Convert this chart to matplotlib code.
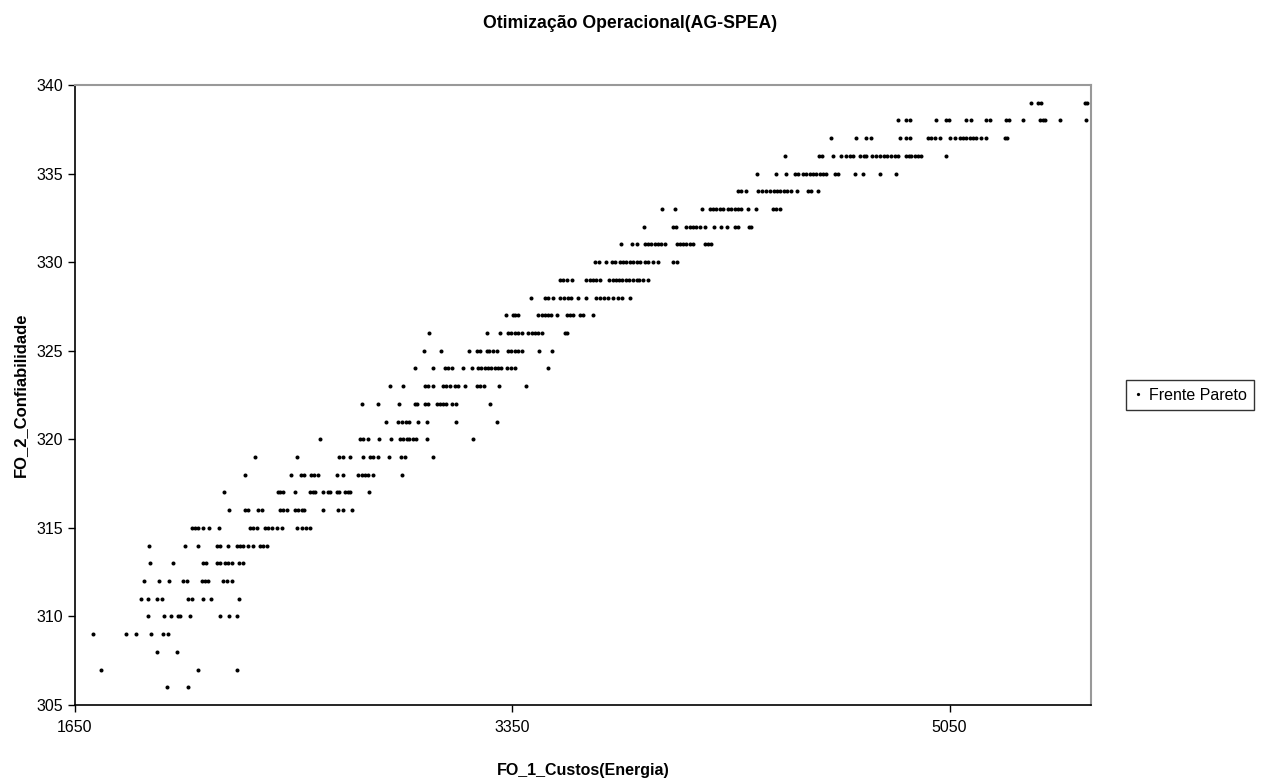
import matplotlib
matplotlib.use("Agg")
import matplotlib.pyplot as plt

plt.rcParams['font.family'] = ['Liberation Sans', 'DejaVu Sans']

# FO_1 (custos) values for each FO_2 (confiabilidade) level
c306 = [2006, 2090]
c307 = [1750, 2129, 2278]
c308 = [1967, 2045]
c309 = [1719, 1848, 1887, 1945, 1991, 2013]
c310 = [1935, 1996, 2022, 2049, 2058, 2097, 2213, 2248, 2281]
c311 = [1906, 1935, 1967, 1987, 2090, 2103, 2146, 2178, 2288]
c312 = [1919, 1976, 2015, 2069, 2084, 2142, 2155, 2168, 2224, 2240, 2259]
c313 = [1941, 2030, 2146, 2159, 2201, 2213, 2233, 2246, 2259, 2288, 2304]
c314 = [1938, 2077, 2129, 2201, 2213, 2246, 2278, 2291, 2304, 2323, 2343,
        2369, 2382, 2395]
c315 = [2103, 2116, 2129, 2149, 2172, 2211, 2330, 2343, 2356, 2388, 2401,
        2414, 2434, 2453, 2512, 2531, 2548, 2563]
c316 = [2250, 2311, 2321, 2362, 2376, 2447, 2457, 2473, 2505, 2518, 2531,
        2540, 2615, 2673, 2693, 2725]
c317 = [2230, 2438, 2447, 2460, 2505, 2563, 2574, 2583, 2613, 2632, 2641,
        2667, 2677, 2699, 2712, 2719, 2794]
c318 = [2311, 2488, 2528, 2541, 2567, 2579, 2595, 2667, 2693, 2751, 2764,
        2777, 2790, 2809, 2922]
c319 = [2349, 2512, 2677, 2690, 2719, 2768, 2796, 2809, 2829, 2871, 2916,
        2932, 3042]
c320 = [2602, 2758, 2770, 2790, 2833, 2877, 2913, 2926, 2939, 2949, 2965,
        2975, 3017, 3198]
c321 = [2859, 2906, 2920, 2936, 2949, 2984, 3017, 3133, 3291]
c322 = [2766, 2829, 2910, 2971, 2980, 3010, 3023, 3056, 3068, 3081, 3094,
        3114, 3133, 3263]
c323 = [2874, 2926, 3010, 3023, 3042, 3081, 3094, 3107, 3127, 3140, 3166,
        3211, 3224, 3239, 3299, 3403]
c324 = [2971, 3042, 3088, 3101, 3114, 3157, 3195, 3217, 3230, 3243, 3256,
        3269, 3282, 3295, 3308, 3328, 3347, 3360, 3489]
c325 = [3007, 3071, 3182, 3211, 3224, 3250, 3260, 3276, 3289, 3334, 3347,
        3360, 3373, 3386, 3454, 3506]
c326 = [3027, 3252, 3304, 3334, 3347, 3360, 3373, 3386, 3412, 3425, 3438,
        3450, 3464, 3554, 3563]
c327 = [3325, 3351, 3360, 3373, 3450, 3464, 3479, 3489, 3502, 3522, 3561,
        3574, 3586, 3612, 3625, 3662]
c328 = [3422, 3476, 3489, 3509, 3537, 3550, 3567, 3580, 3606, 3638, 3677,
        3690, 3706, 3722, 3742, 3761, 3778, 3807]
c329 = [3537, 3548, 3561, 3584, 3638, 3651, 3664, 3677, 3690, 3726, 3740,
        3752, 3765, 3778, 3791, 3804, 3820, 3833, 3843, 3858, 3878]
c330 = [3671, 3687, 3716, 3736, 3748, 3768, 3781, 3794, 3807, 3820, 3833,
        3846, 3865, 3878, 3897, 3917, 3975, 3991]
c331 = [3771, 3817, 3833, 3865, 3878, 3891, 3904, 3917, 3930, 3943, 3991,
        4001, 4014, 4027, 4040, 4053, 4098, 4111, 4124]
c332 = [3862, 3973, 3988, 4027, 4040, 4053, 4066, 4079, 4098, 4133, 4163,
        4183, 4215, 4228, 4270, 4280]
c333 = [3932, 3982, 4088, 4118, 4130, 4144, 4156, 4169, 4189, 4202, 4215,
        4228, 4241, 4266, 4299, 4364, 4377, 4390]
c334 = [4228, 4241, 4260, 4305, 4319, 4338, 4353, 4366, 4379, 4392, 4405,
        4418, 4435, 4457, 4500, 4513, 4539]
c335 = [4301, 4377, 4416, 4448, 4461, 4480, 4493, 4506, 4519, 4532, 4545,
        4558, 4571, 4603, 4616, 4681, 4713, 4778, 4843]
c336 = [4409, 4542, 4556, 4597, 4629, 4649, 4662, 4675, 4701, 4716, 4727,
        4750, 4765, 4778, 4794, 4805, 4824, 4837, 4849, 4882, 4892, 4901,
        4914, 4927, 4940, 5035]
c337 = [4591, 4688, 4727, 4746, 4856, 4879, 4895, 4966, 4979, 4992, 5011,
        5050, 5070, 5089, 5102, 5115, 5128, 5141, 5154, 5173, 5193, 5264,
        5273]
c338 = [4849, 4882, 4895, 4999, 5035, 5048, 5115, 5135, 5193, 5208, 5271,
        5283, 5335, 5400, 5413, 5423, 5478, 5582]
c339 = [5365, 5393, 5407, 5575, 5584]

levels = [306, 307, 308, 309, 310, 311, 312, 313, 314, 315, 316, 317, 318,
          319, 320, 321, 322, 323, 324, 325, 326, 327, 328, 329, 330, 331,
          332, 333, 334, 335, 336, 337, 338, 339]
level_costs = [c306, c307, c308, c309, c310, c311, c312, c313, c314, c315,
               c316, c317, c318, c319, c320, c321, c322, c323, c324, c325,
               c326, c327, c328, c329, c330, c331, c332, c333, c334, c335,
               c336, c337, c338, c339]

x_ticks = [1650, 3350, 5050]
y_ticks = [305, 310, 315, 320, 325, 330, 335, 340]

fo1 = []
fo2 = []
for lv, cs in zip(levels, level_costs):
    for c in cs:
        fo1.append(c)
        fo2.append(lv)

fig = plt.figure(figsize=(12.61, 7.78), dpi=100)
ax = fig.add_axes([75 / 1261, 73 / 778, (1091 - 75) / 1261, (705 - 85) / 778])

ax.plot(fo1, fo2, linestyle='none', marker='o', markersize=2.9,
        color='black', markeredgewidth=0, label='Frente Pareto')

ax.set_xlim(1650, 5600)
ax.set_ylim(305, 340)
ax.set_xticks(x_ticks)
ax.set_yticks(y_ticks)
ax.tick_params(axis='both', direction='out', length=5, width=1,
               labelsize=11.5, colors='black')
ax.tick_params(axis='x', pad=6)

for s in ['left', 'bottom']:
    ax.spines[s].set_color('black')
    ax.spines[s].set_linewidth(1.2)
for s in ['top', 'right']:
    ax.spines[s].set_color('#999999')
    ax.spines[s].set_linewidth(1.5)

fig.text(0.5, 1 - 24 / 778, 'Otimização Operacional(AG-SPEA)', ha='center',
         va='center', fontsize=12.7, fontweight='bold')
ax.set_xlabel('FO_1_Custos(Energia)', fontsize=11.5, fontweight='bold',
              labelpad=20)
ax.set_ylabel('FO_2_Confiabilidade', fontsize=12, fontweight='bold',
              labelpad=6)

leg = fig.legend(loc='center', bbox_to_anchor=(1190 / 1261, 1 - 395 / 778),
                 fontsize=11.5, frameon=True, fancybox=False,
                 handlelength=0.6, handletextpad=0.4, borderpad=0.45,
                 markerscale=0.8)
leg.get_frame().set_edgecolor('black')
leg.get_frame().set_linewidth(1.0)

fig.savefig('out.png', dpi=100, facecolor='white')
